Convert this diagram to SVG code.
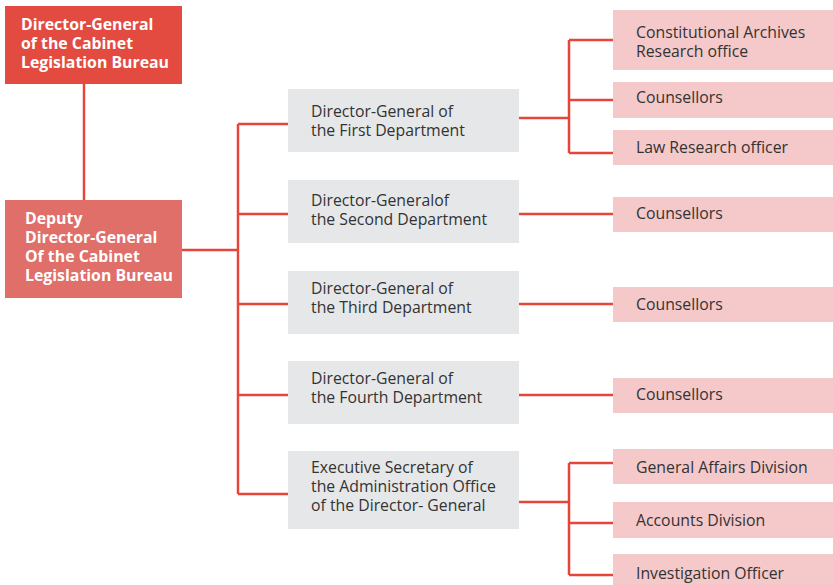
<svg xmlns="http://www.w3.org/2000/svg" width="833" height="585" viewBox="0 0 833 585">
<style>
.top{fill:#e34b41}
.dep{fill:#e06e69}
.g{fill:#e6e7e8}
.p{fill:#f5c8c9}
.w{font-family:"Open Sans","Noto Sans",sans-serif;font-size:15.85px;font-weight:bold;fill:#fff}
.t{font-family:"Open Sans","Noto Sans",sans-serif;font-size:15.8px;fill:#333}
.c{stroke:#e5463b;stroke-width:2.5;fill:none}
</style>
<rect width="833" height="585" fill="#fff"/>
<g id="connectors" class="c">
<path d="M84 84V200"/>
<path d="M182 250H238"/>
<path d="M238 124V494"/>
<path d="M238 124H288M238 214H288M238 304H288M238 395H288M238 494H288"/>
<path d="M519 118H569M569 40V153M569 40H613M569 100H613M569 153H613"/>
<path d="M519 214H613M519 304H613M519 395H613"/>
<path d="M519 502H569M569 463V575M569 463H613M569 523H613M569 575H613"/>
</g>
<g id="n-dg"><rect class="top" x="5" y="6" width="177" height="78"/><text class="w" x="21" y="30">Director-General</text><text class="w" x="21" y="49">of the Cabinet</text><text class="w" x="21" y="68">Legislation Bureau</text></g>
<g id="n-deputy"><rect class="dep" x="5" y="200" width="177" height="98"/><text class="w" x="25" y="224">Deputy</text><text class="w" x="25" y="243">Director-General</text><text class="w" x="25" y="262">Of the Cabinet</text><text class="w" x="25" y="281">Legislation Bureau</text></g>
<g id="n-d1"><rect class="g" x="288" y="89" width="231" height="63"/><text class="t" x="311" y="117">Director-General of</text><text class="t" x="311" y="136">the First Department</text></g>
<g id="n-d2"><rect class="g" x="288" y="180" width="231" height="63"/><text class="t" x="311" y="206">Director-Generalof</text><text class="t" x="311" y="225">the Second Department</text></g>
<g id="n-d3"><rect class="g" x="288" y="271" width="231" height="63"/><text class="t" x="311" y="294">Director-General of</text><text class="t" x="311" y="313">the Third Department</text></g>
<g id="n-d4"><rect class="g" x="288" y="361" width="231" height="63"/><text class="t" x="311" y="384">Director-General of</text><text class="t" x="311" y="403">the Fourth Department</text></g>
<g id="n-exec"><rect class="g" x="288" y="451" width="231" height="78"/><text class="t" x="311" y="473">Executive Secretary of</text><text class="t" x="311" y="492">the Administration Office</text><text class="t" x="311" y="511">of the Director- General</text></g>
<g id="n-const"><rect class="p" x="613" y="10" width="220" height="60"/><text class="t" x="636" y="38">Constitutional Archives</text><text class="t" x="636" y="57">Research office</text></g>
<g id="n-c1"><rect class="p" x="613" y="82" width="220" height="36"/><text class="t" x="636" y="103">Counsellors</text></g>
<g id="n-law"><rect class="p" x="613" y="130" width="220" height="35"/><text class="t" x="636" y="153">Law Research officer</text></g>
<g id="n-c2"><rect class="p" x="613" y="197" width="220" height="35"/><text class="t" x="636" y="219">Counsellors</text></g>
<g id="n-c3"><rect class="p" x="613" y="287" width="220" height="35"/><text class="t" x="636" y="310">Counsellors</text></g>
<g id="n-c4"><rect class="p" x="613" y="378" width="220" height="35"/><text class="t" x="636" y="400">Counsellors</text></g>
<g id="n-ga"><rect class="p" x="613" y="449" width="220" height="35"/><text class="t" x="636" y="473">General Affairs Division</text></g>
<g id="n-acc"><rect class="p" x="613" y="502" width="220" height="36"/><text class="t" x="636" y="526">Accounts Division</text></g>
<g id="n-inv"><rect class="p" x="613" y="554" width="220" height="35"/><text class="t" x="636" y="579">Investigation Officer</text></g>
</svg>
